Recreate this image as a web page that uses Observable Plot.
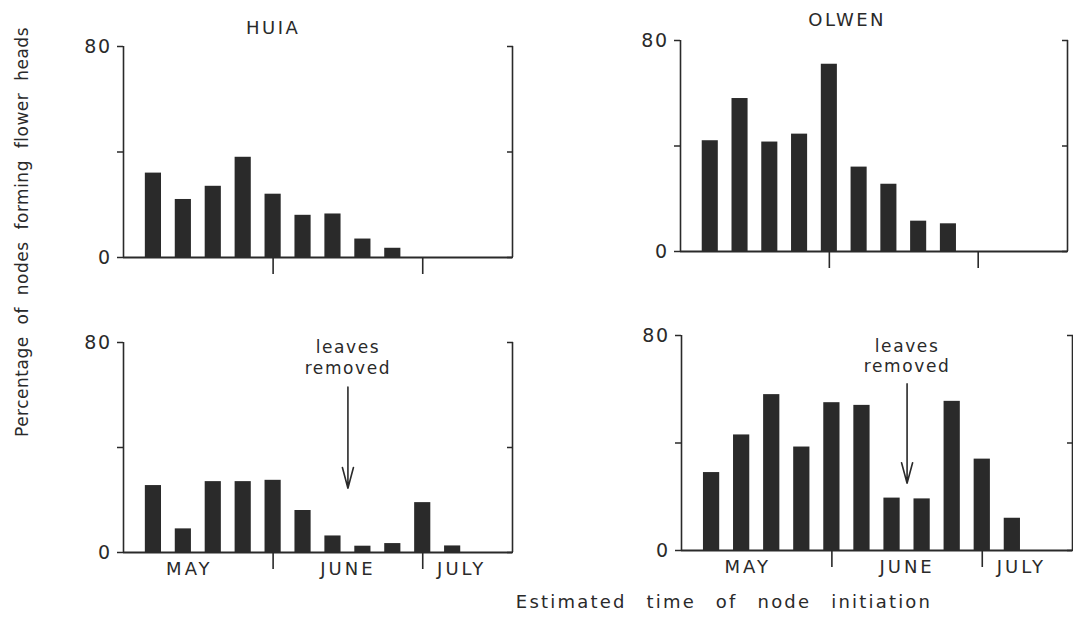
<!DOCTYPE html>
<html><head><meta charset="utf-8">
<script src="https://cdn.jsdelivr.net/npm/d3@7"></script>
<script src="https://cdn.jsdelivr.net/npm/@observablehq/plot@0.6"></script>
<style>
body{margin:0;background:#fff;}
#wrap{position:relative;width:1073px;height:619px;overflow:hidden;background:#fff;font-family:"DejaVu Sans",sans-serif;color:#2a2a2a;}
.panel{position:absolute;}
.panel svg{max-width:none !important;}
#ylab{position:absolute;left:22px;top:232px;transform:translate(-50%,-50%) rotate(-90deg);white-space:nowrap;font-size:17px;word-spacing:6px;letter-spacing:0.5px;}
#xlab{position:absolute;left:724px;top:601px;transform:translate(-50%,-50%);white-space:nowrap;font-size:18px;word-spacing:12px;letter-spacing:2.2px;}
</style></head>
<body>
<div id="wrap">
  <div id="ylab">Percentage of nodes forming flower heads</div>
  <div id="xlab">Estimated time of node initiation</div>
</div>
<script>
// ---- data (percentage of nodes forming flower heads, by node-initiation period) ----
const huiaIntact   = [32, 22, 27, 38, 24, 16, 16.5, 7, 3.5];
const olwenIntact  = [42, 58, 41.5, 44.5, 71, 32, 25.5, 11.5, 10.5];
const huiaLeavesRemoved  = [25.5, 9, 27, 27, 27.5, 16, 6.3, 2.4, 3.4, 19, 2.5];
const olwenLeavesRemoved = [29, 43, 58, 38.5, 55, 54, 19.5, 19.2, 55.5, 34, 12];
const months = ["MAY", "JUNE", "JULY"];
const monthCentres = [2.2, 7.5, 11.3];
const monthBoundaries = [5, 10];
const yTicks = [0, 40, 80];
const noteLines = ["leaves", "removed"];
const removalTime = 7.5;

const ink = "#2a2a2a";
const font = "'DejaVu Sans', sans-serif";

function panel({values, title, titleX, titleDy, note, labels, frameH, width, left, top}) {
  const data = values.map((v, k) => ({node: k + 1, pct: v}));
  const height = 30 + frameH + 40;
  const marks = [
    Plot.rectY(data, {x1: d => d.node - 0.27, x2: d => d.node + 0.27, y1: 0, y2: "pct", fill: ink}),
    Plot.ruleX([0, 13], {stroke: ink, strokeWidth: 1.6}),
    Plot.ruleY([0], {stroke: ink, strokeWidth: 2}),
    Plot.axisY({ticks: yTicks, label: null, tickSize: 6, tickPadding: 6, tickFormat: d => d === 40 ? "" : d, fontSize: 19, stroke: ink, fill: ink, strokeWidth: 1.5}),
    Plot.axisY({anchor: "right", label: null, ticks: yTicks, tickSize: -6, tickFormat: () => "", stroke: ink, strokeWidth: 1.5}),
    Plot.axisX({ticks: monthBoundaries, label: null, tickSize: 17, tickFormat: () => "", stroke: ink, strokeWidth: 1.6})
  ];
  if (title) marks.push(Plot.text([title], {ariaLabel: () => "title", x: titleX, frameAnchor: "top", lineAnchor: "middle", dy: titleDy, fontSize: 18, fill: ink}));
  if (labels) marks.push(Plot.text(months, {ariaLabel: () => "month", x: (d, i) => monthCentres[i], frameAnchor: "bottom", lineAnchor: "middle", dy: 17, fontSize: 18, fill: ink}));
  if (note) {
    marks.push(Plot.text(noteLines, {ariaLabel: () => "note", x: removalTime, y: (d, i) => note.textY[i], fontSize: 17, fill: ink}));
    marks.push(Plot.arrow([note], {x: removalTime, y1: "y1", y2: "y2", stroke: ink, strokeWidth: 1.6, headLength: 20, headAngle: 30}));
  }
  const svg = Plot.plot({
    width, height,
    marginLeft: 40, marginRight: 10, marginTop: 30, marginBottom: 40,
    x: {domain: [0, 13], axis: null},
    y: {domain: [0, 80], axis: null},
    style: {fontFamily: font, background: "transparent", color: ink},
    marks
  });
  const s = d3.select(svg);
  s.selectAll('text[aria-label="title"]').style("letter-spacing", "2.5px");
  s.selectAll('text[aria-label="month"]').style("letter-spacing", "3px");
  s.selectAll('text[aria-label="note"]').style("letter-spacing", "1.6px");
  s.selectAll('g[aria-label="y-axis tick label"] text').style("letter-spacing", "1.5px");
  const div = document.createElement("div");
  div.className = "panel";
  div.style.left = left + "px";
  div.style.top = top + "px";
  div.style.width = width + "px";
  div.style.height = height + "px";
  div.appendChild(svg);
  document.getElementById("wrap").appendChild(div);
}

panel({values: huiaIntact, title: "HUIA", titleX: 5, titleDy: -18, frameH: 211, width: 439, left: 83, top: 16});
panel({values: olwenIntact, title: "OLWEN", titleX: 5.6, titleDy: -20, frameH: 211, width: 437, left: 640, top: 10});
panel({values: huiaLeavesRemoved, labels: true, note: {textY: [78, 70], y1: 63, y2: 24.5}, frameH: 210, width: 439, left: 83, top: 312});
panel({values: olwenLeavesRemoved, labels: true, note: {textY: [76, 68.5], y1: 62, y2: 25}, frameH: 215, width: 441, left: 641, top: 305});
</script>
</body></html>
